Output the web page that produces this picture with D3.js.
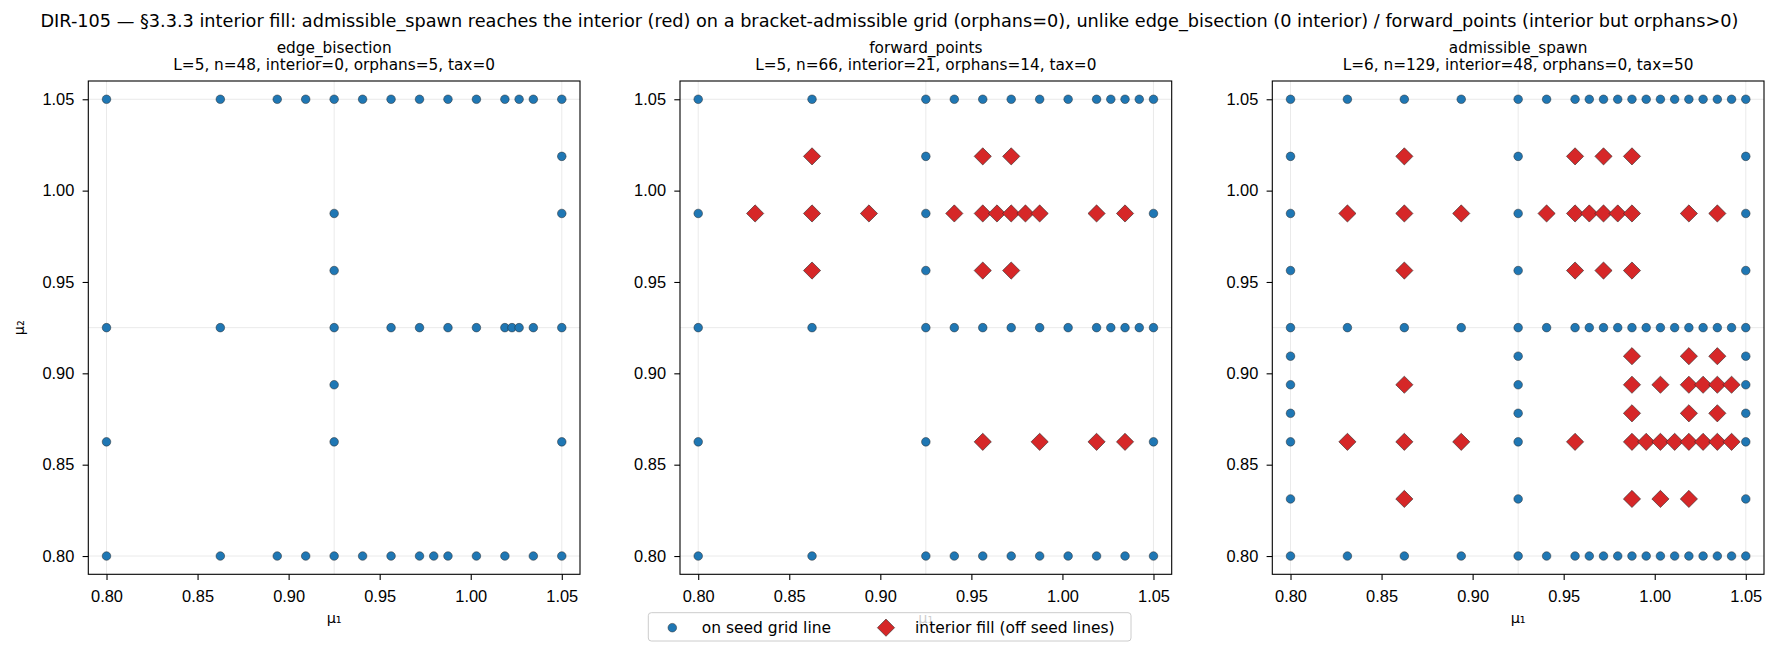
<!DOCTYPE html>
<html>
<head>
<meta charset="utf-8">
<script src="https://cdn.jsdelivr.net/npm/d3@7"></script>
<style>
  body { margin: 0; background: #fff; }
  svg { display: block; font-family: "DejaVu Sans", sans-serif; }
</style>
</head>
<body>
<svg id="chart" width="1779" height="654"></svg>
<script>
// seed grid and ticks
const seedLines = [0.8, 0.925, 1.05]
const tickValues = [0.80, 0.85, 0.90, 0.95, 1.00, 1.05]

const suptitle = 'DIR-105 \u2014 \u00a73.3.3 interior fill: admissible_spawn reaches the interior (red) on a bracket-admissible grid (orphans=0), unlike edge_bisection (0 interior) / forward_points (interior but orphans>0)'
const panelNames = ['edge_bisection', 'forward_points', 'admissible_spawn']
const panelStats = [
    'L=5, n=48, interior=0, orphans=5, tax=0',
    'L=5, n=66, interior=21, orphans=14, tax=0',
    'L=6, n=129, interior=48, orphans=0, tax=50'
]

// points on seed lines: rows are [mu2, [mu1 ...]], cols are [mu1, [mu2 ...]]
const edgeRows = [
    [1.05, [0.8, 0.8625, 0.89375, 0.909375, 0.925, 0.940625, 0.95625, 0.971875, 0.9875, 1.003125, 1.01875, 1.026563, 1.034375, 1.05]],
    [0.925, [0.8, 0.8625, 0.925, 0.95625, 0.971875, 0.9875, 1.003125, 1.01875, 1.022656, 1.026563, 1.034375, 1.05]],
    [0.8, [0.8, 0.8625, 0.89375, 0.909375, 0.925, 0.940625, 0.95625, 0.971875, 0.979688, 0.9875, 1.003125, 1.01875, 1.034375, 1.05]]
]
const edgeCols = [
    [0.8, [0.8625]],
    [0.925, [0.9875, 0.95625, 0.89375, 0.8625]],
    [1.05, [1.01875, 0.9875, 0.8625]]
]
const edgeInterior = []

const forwardRows = [
    [1.05, [0.8, 0.8625, 0.925, 0.940625, 0.95625, 0.971875, 0.9875, 1.003125, 1.01875, 1.026563, 1.034375, 1.042188, 1.05]],
    [0.925, [0.8, 0.8625, 0.925, 0.940625, 0.95625, 0.971875, 0.9875, 1.003125, 1.01875, 1.026563, 1.034375, 1.042188, 1.05]],
    [0.8, [0.8, 0.8625, 0.925, 0.940625, 0.95625, 0.971875, 0.9875, 1.003125, 1.01875, 1.034375, 1.05]]
]
const forwardCols = [
    [0.8, [0.9875, 0.8625]],
    [0.925, [1.01875, 0.9875, 0.95625, 0.8625]],
    [1.05, [0.9875, 0.8625]]
]
const forwardInterior = [
    [1.01875, [0.8625, 0.95625, 0.971875]],
    [0.9875, [0.83125, 0.8625, 0.89375, 0.940625, 0.95625, 0.964063, 0.971875, 0.979688, 0.9875, 1.01875, 1.034375]],
    [0.95625, [0.8625, 0.95625, 0.971875]],
    [0.8625, [0.95625, 0.9875, 1.01875, 1.034375]]
]

const spawnRows = [
    [1.05, [0.8, 0.83125, 0.8625, 0.89375, 0.925, 0.940625, 0.95625, 0.964063, 0.971875, 0.979688, 0.9875, 0.995313, 1.003125, 1.010938, 1.01875, 1.026563, 1.034375, 1.042188, 1.05]],
    [0.925, [0.8, 0.83125, 0.8625, 0.89375, 0.925, 0.940625, 0.95625, 0.964063, 0.971875, 0.979688, 0.9875, 0.995313, 1.003125, 1.010938, 1.01875, 1.026563, 1.034375, 1.042188, 1.05]],
    [0.8, [0.8, 0.83125, 0.8625, 0.89375, 0.925, 0.940625, 0.95625, 0.964063, 0.971875, 0.979688, 0.9875, 0.995313, 1.003125, 1.010938, 1.01875, 1.026563, 1.034375, 1.042188, 1.05]]
]
const spawnCols = [
    [0.8, [1.01875, 0.9875, 0.95625, 0.909375, 0.89375, 0.878125, 0.8625, 0.83125]],
    [0.925, [1.01875, 0.9875, 0.95625, 0.909375, 0.89375, 0.878125, 0.8625, 0.83125]],
    [1.05, [1.01875, 0.9875, 0.95625, 0.909375, 0.89375, 0.878125, 0.8625, 0.83125]]
]
const spawnInterior = [
    [1.01875, [0.8625, 0.95625, 0.971875, 0.9875]],
    [0.9875, [0.83125, 0.8625, 0.89375, 0.940625, 0.95625, 0.964063, 0.971875, 0.979688, 0.9875, 1.01875, 1.034375]],
    [0.95625, [0.8625, 0.95625, 0.971875, 0.9875]],
    [0.909375, [0.9875, 1.01875, 1.034375]],
    [0.89375, [0.8625, 0.9875, 1.003125, 1.01875, 1.026563, 1.034375, 1.042188]],
    [0.878125, [0.9875, 1.01875, 1.034375]],
    [0.8625, [0.83125, 0.8625, 0.89375, 0.95625, 0.9875, 0.995313, 1.003125, 1.010938, 1.01875, 1.026563, 1.034375, 1.042188]],
    [0.83125, [0.8625, 0.9875, 1.003125, 1.01875]]
]

const blue = '#1f77b4'
const red = '#d62728'

// flatten rows / cols into [mu1, mu2] points
const fromRows = rows => rows.flatMap(([yv, xs]) => xs.map(xv => [xv, yv]))
const fromCols = cols => cols.flatMap(([xv, ys]) => ys.map(yv => [xv, yv]))

const panels = [
    { seed: fromRows(edgeRows).concat(fromCols(edgeCols)), interior: fromRows(edgeInterior) },
    { seed: fromRows(forwardRows).concat(fromCols(forwardCols)), interior: fromRows(forwardInterior) },
    { seed: fromRows(spawnRows).concat(fromCols(spawnCols)), interior: fromRows(spawnInterior) }
]

const svg = d3.select('#chart')
const plotTop = 81
const plotBottom = 574.3
const plotW = 491.7
const lefts = [88.3, 680, 1272.3]
const domain = [0.79, 1.06]

const diamond = h => `M0,${-h}L${h},0L0,${h}L${-h},0Z`

svg.append('text')
    .attr('x', 889.5).attr('y', 26.5)
    .attr('text-anchor', 'middle')
    .style('font-size', '17.7px')
    .text(suptitle)

panels.forEach((p, i) => {
    const left = lefts[i]
    const x = d3.scaleLinear().domain(domain).range([left, left + plotW])
    const y = d3.scaleLinear().domain(domain).range([plotBottom, plotTop])
    const g = svg.append('g')

    // seed grid lines
    g.selectAll('.vgrid').data(seedLines).join('line')
        .attr('x1', d => x(d)).attr('x2', d => x(d))
        .attr('y1', plotTop).attr('y2', plotBottom)
        .attr('stroke', '#b0b0b0').attr('stroke-opacity', 0.3).attr('stroke-width', 0.9)
    g.selectAll('.hgrid').data(seedLines).join('line')
        .attr('y1', d => y(d)).attr('y2', d => y(d))
        .attr('x1', left).attr('x2', left + plotW)
        .attr('stroke', '#b0b0b0').attr('stroke-opacity', 0.3).attr('stroke-width', 0.9)

    g.append('g').selectAll('circle').data(p.seed).join('circle')
        .attr('cx', d => x(d[0])).attr('cy', d => y(d[1]))
        .attr('r', 4.3)
        .attr('fill', blue).attr('stroke', '#2a2a2a').attr('stroke-width', 0.5)

    g.append('g').selectAll('path').data(p.interior).join('path')
        .attr('transform', d => `translate(${x(d[0])},${y(d[1])})`)
        .attr('d', diamond(8.6))
        .attr('fill', red).attr('stroke', '#2a2a2a').attr('stroke-width', 0.6)

    const xAxis = g.append('g')
        .attr('transform', `translate(0,${plotBottom})`)
        .call(d3.axisBottom(x).tickValues(tickValues).tickFormat(d3.format('.2f')).tickSize(5.7).tickSizeOuter(0))
    xAxis.select('.domain').remove()
    xAxis.selectAll('text').attr('y', 15.6).style('font-size', '16.4px').attr('fill', '#000')
    xAxis.selectAll('line').attr('stroke', '#000').attr('stroke-width', 1.1)

    const yAxis = g.append('g')
        .attr('transform', `translate(${left},0)`)
        .call(d3.axisLeft(y).tickValues(tickValues).tickFormat(d3.format('.2f')).tickSize(5.7).tickPadding(8.3).tickSizeOuter(0))
    yAxis.select('.domain').remove()
    yAxis.selectAll('text').style('font-size', '16.4px').attr('fill', '#000')
    yAxis.selectAll('line').attr('stroke', '#000').attr('stroke-width', 1.1)

    g.append('rect')
        .attr('x', left).attr('y', plotTop)
        .attr('width', plotW).attr('height', plotBottom - plotTop)
        .attr('fill', 'none').attr('stroke', '#000').attr('stroke-width', 1.1)

    const cx = left + plotW / 2
    g.append('text').attr('x', cx).attr('y', 52.5)
        .attr('text-anchor', 'middle').style('font-size', '15.3px')
        .text(panelNames[i])
    g.append('text').attr('x', cx).attr('y', 70)
        .attr('text-anchor', 'middle').style('font-size', '15.3px')
        .text(panelStats[i])

    g.append('text').attr('x', cx).attr('y', 623)
        .attr('text-anchor', 'middle').style('font-size', '14.5px')
        .text('\u03bc\u2081')

    if (i === 0) {
        g.append('text')
            .attr('transform', `translate(24,${(plotTop + plotBottom) / 2}) rotate(-90)`)
            .attr('text-anchor', 'middle').style('font-size', '14.5px')
            .text('\u03bc\u2082')
    }
})

// legend (semi-opaque, sits over the middle x label like the original)
const legend = svg.append('g')
legend.append('rect')
    .attr('x', 648.3).attr('y', 612.7)
    .attr('width', 482.7).attr('height', 28.3)
    .attr('rx', 3)
    .attr('fill', '#fff').attr('fill-opacity', 0.8)
    .attr('stroke', '#cccccc').attr('stroke-width', 1)
legend.append('circle')
    .attr('cx', 672.3).attr('cy', 627.7).attr('r', 4.3)
    .attr('fill', blue).attr('stroke', '#2a2a2a').attr('stroke-width', 0.5)
legend.append('text')
    .attr('x', 701.7).attr('y', 633.2)
    .style('font-size', '15.5px')
    .text('on seed grid line')
legend.append('path')
    .attr('transform', 'translate(886,627.7)')
    .attr('d', diamond(8.6))
    .attr('fill', red).attr('stroke', '#2a2a2a').attr('stroke-width', 0.6)
legend.append('text')
    .attr('x', 915).attr('y', 633.2)
    .style('font-size', '15.5px')
    .text('interior fill (off seed lines)')
</script>
</body>
</html>
